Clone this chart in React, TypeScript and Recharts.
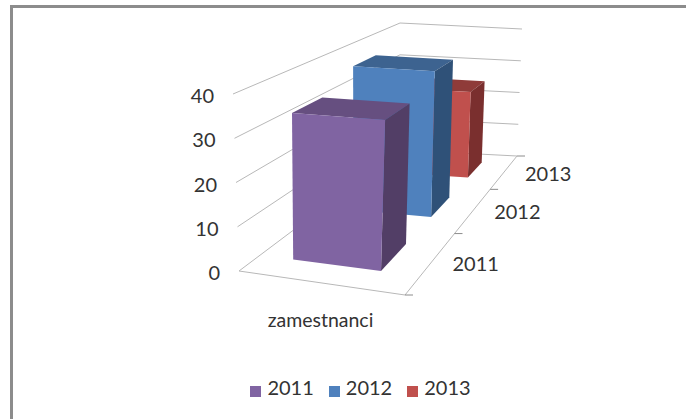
import React from 'react';
import { BarChart, Bar, XAxis, YAxis, CartesianGrid, Legend } from 'recharts';

const years = ['2011', '2012', '2013'];
const values = [34, 38, 25];
const yTicks = [0, 10, 20, 30, 40];
const categoryLabel = 'zamestnanci';
const colors: Record<string, string[]> = {
  '2011': ['#8064a2', '#664f80', '#523e66'],
  '2012': ['#4f81bd', '#3d6390', '#2f5178'],
  '2013': ['#c0504d', '#8f3b39', '#7a2f2e'],
};
const YMAX = 40;
const FONT = 'Lato, "Open Sans", sans-serif';
const TEXT = '#333333';
const GRID = '#b8b8b8';

const rows = years.map((y, i) => ({ year: y, [y]: values[i] }));

type P = [number, number];
const FLOOR: P[] = [[239, 271], [405, 295], [517, 156], [400, 150]];
const CEIL: P[] = [[233, 94], [411, 106], [522, 29], [400, 23]];
const U0 = 0.225;
const U1 = 0.775;

function homography(q: P[]) {
  const [p0, p1, p2, p3] = q;
  const dx1 = p1[0] - p2[0], dx2 = p3[0] - p2[0], sx = p0[0] - p1[0] + p2[0] - p3[0];
  const dy1 = p1[1] - p2[1], dy2 = p3[1] - p2[1], sy = p0[1] - p1[1] + p2[1] - p3[1];
  const den = dx1 * dy2 - dx2 * dy1;
  const g = (sx * dy2 - dx2 * sy) / den;
  const h = (dx1 * sy - sx * dy1) / den;
  const a = p1[0] - p0[0] + g * p1[0], b = p3[0] - p0[0] + h * p3[0], c = p0[0];
  const d = p1[1] - p0[1] + g * p1[1], e = p3[1] - p0[1] + h * p3[1], f = p0[1];
  return (u: number, w: number): P => {
    const k = g * u + h * w + 1;
    return [(a * u + b * w + c) / k, (d * u + e * w + f) / k];
  };
}
const hf = homography(FLOOR);
const hc = homography(CEIL);
const project = (u: number, v: number, d: number): P => {
  const a = hf(u, d), b = hc(u, d);
  return [a[0] + (b[0] - a[0]) * v, a[1] + (b[1] - a[1]) * v];
};
const poly = (pts: P[]) => pts.map((p) => `${p[0].toFixed(1)},${p[1].toFixed(1)}`).join(' ');
const pathOf = (pts: P[]) => 'M' + pts.map((p) => `${p[0].toFixed(1)} ${p[1].toFixed(1)}`).join('L');

const plotBox = { left: 0, width: 1 };

function Box3D(props: any) {
  const { x, width, height, background, year } = props;
  if (!height || height <= 0 || !background) return null;
  const d0 = (x - plotBox.left) / plotBox.width;
  const d1 = (x + width - plotBox.left) / plotBox.width;
  const v = height / background.height;
  const c = colors[year];
  return (
    <g>
      <polygon fill={c[1]} points={poly([project(U0, v, d0), project(U1, v, d0), project(U1, v, d1), project(U0, v, d1)])} />
      <polygon fill={c[2]} points={poly([project(U1, 0, d0), project(U1, 0, d1), project(U1, v, d1), project(U1, v, d0)])} />
      <polygon fill={c[0]} points={poly([project(U0, 0, d0), project(U1, 0, d0), project(U1, v, d0), project(U0, v, d0)])} />
    </g>
  );
}

function gridLine(props: any) {
  const v = 1 - (props.y1 - props.y) / props.height;
  const pts = [project(0, v, 0), project(0, v, 1), project(1, v, 1)];
  return (
    <g key={props.key}>
      <path d={pathOf(pts)} fill="none" stroke={GRID} strokeWidth={1} />
      {v < 0.001 ? <path d={pathOf([project(0, 0, 0), project(1, 0, 0), project(1, 0, 1)])} fill="none" stroke={GRID} strokeWidth={1} /> : null}
    </g>
  );
}

function YTick(props: any) {
  const p = project(0, props.payload.value / YMAX, 0);
  return (
    <text x={p[0] - 19} y={p[1] + 4} textAnchor="end" dominantBaseline="middle" fontFamily={FONT} fontSize={20} fill={TEXT}>
      {props.payload.value}
    </text>
  );
}

function XTick(props: any) {
  const { x, index, payload } = props;
  const d = (x - plotBox.left) / plotBox.width;
  const c = project(1, 0, d);
  const edge = project(1, 0, d - 1 / 6);
  const lastEdge = project(1, 0, d + 1 / 6);
  return (
    <g>
      <path d={`M${edge[0]} ${edge[1]}h8`} stroke="#8c8c8c" />
      {index === years.length - 1 ? <path d={`M${lastEdge[0]} ${lastEdge[1]}h8`} stroke="#8c8c8c" /> : null}
      <text x={c[0] + 20.5} y={c[1] + 4.5} textAnchor="start" dominantBaseline="middle" fontFamily={FONT} fontSize={20} fill={TEXT}>
        {payload.value}
      </text>
      {index === 0 ? (
        <text x={320.5} y={322} textAnchor="middle" dominantBaseline="middle" fontFamily={FONT} fontSize={19.5} fill={TEXT}>
          {categoryLabel}
        </text>
      ) : null}
    </g>
  );
}

const W = 686, H = 419;
const M = { top: 30, right: 30, bottom: 70, left: 0 };
const YW = 40;
plotBox.left = M.left + YW;
plotBox.width = W - M.left - M.right - YW;

export default function App() {
  return (
    <div style={{ position: 'absolute', left: 0, top: 0, width: W, height: H, overflow: 'hidden', background: '#fff' }}>
      <div style={{ position: 'absolute', left: 10, top: 5, width: W, height: H, borderLeft: '3px solid #8c8c8c', borderTop: '3px solid #8c8c8c' }} />
      <BarChart
        width={W}
        height={H}
        data={rows}
        margin={M}
        barCategoryGap="27%"
        style={{ position: 'absolute', left: 0, top: 0 }}
      >
        <CartesianGrid horizontal={gridLine} vertical={false} syncWithTicks />
        <XAxis dataKey="year" axisLine={false} tickLine={false} tick={XTick} height={20} interval={0} />
        <YAxis domain={[0, YMAX]} ticks={yTicks} axisLine={false} tickLine={false} tick={YTick} width={YW} />
        {[...years].reverse().map((y) => (
          <Bar key={y} dataKey={y} name={y} stackId="s" fill={colors[y][0]} isAnimationActive={false} shape={<Box3D year={y} />} />
        ))}
        <Legend
          iconType="square"
          iconSize={11}
          formatter={(v: string) => <span style={{ color: TEXT, fontFamily: FONT, fontSize: 20, paddingRight: 5, marginLeft: 2 }}>{v}</span>}
          wrapperStyle={{ bottom: 20, left: 40 }}
        />
      </BarChart>
    </div>
  );
}
